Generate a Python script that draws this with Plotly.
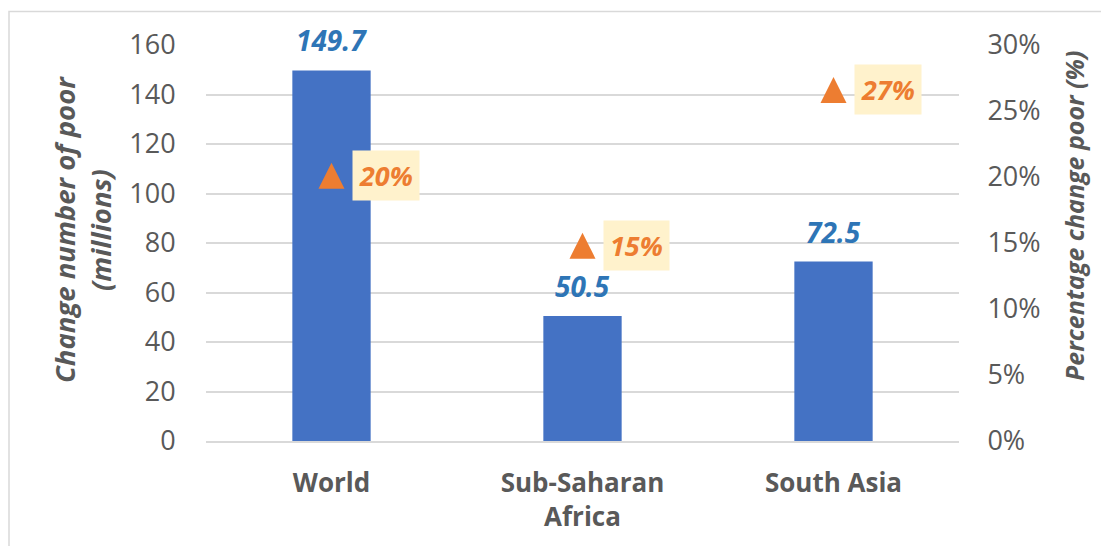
import plotly.graph_objects as go

# ---- data ----
categories = ["World", "Sub-Saharan Africa", "South Asia"]
tick_labels = ["World", "Sub-Saharan<br>Africa", "South Asia"]
change_millions = [149.7, 50.5, 72.5]
pct_change = [0.201, 0.148, 0.266]
left_ticks = [0, 20, 40, 60, 80, 100, 120, 140, 160]
right_ticks = [0, 0.05, 0.10, 0.15, 0.20, 0.25, 0.30]
right_tick_labels = ["0%", "5%", "10%", "15%", "20%", "25%", "30%"]

FONT = "Open Sans"
GRAY = "#595959"
BLUE = "#4472C4"
BLUE_TXT = "#2E75B6"
ORANGE = "#ED7D31"

# page body has an 8px margin; figure is offset by it
W, H = 1101, 538
ML, MT, PW, PH = 198, 37, 753, 396

fig = go.Figure()
fig.add_trace(go.Bar(
    x=categories, y=change_millions, marker=dict(color=BLUE, line=dict(width=0)),
    yaxis="y", name="Change number of poor", hoverinfo="skip",
))
fig.add_trace(go.Scatter(
    x=categories, y=pct_change, mode="markers", yaxis="y2",
    marker=dict(symbol="arrow-down", angle=180, standoff=13, size=26,
                color=ORANGE, line=dict(width=0)),
    name="Percentage change poor", hoverinfo="skip",
))

annotations = []
for c, v in zip(categories, change_millions):
    annotations.append(dict(
        x=c, y=v, xref="x", yref="y", text=f"{v:.1f}", showarrow=False,
        yanchor="middle", xanchor="center", yshift=30,
        font=dict(family=FONT, size=28, color=BLUE_TXT, weight="bold", style="italic"),
    ))
for c, p in zip(categories, pct_change):
    annotations.append(dict(
        x=c, y=p, xref="x", yref="y2", text=f"{p:.0%}", showarrow=False,
        xanchor="left", yanchor="middle", xshift=20,
        bgcolor="#FFF2CC", borderpad=6,
        font=dict(family=FONT, size=27, color=ORANGE, weight="bold", style="italic"),
    ))
annotations.append(dict(
    x=(83 - 206) / PW, y=(441 - 230) / PH, xref="paper", yref="paper", textangle=-90,
    text="Change number of poor<br>(millions)", showarrow=False,
    xanchor="center", yanchor="middle",
    font=dict(family=FONT, size=27.5, color=GRAY, weight="bold", style="italic"),
))
annotations.append(dict(
    x=(1074 - 206) / PW, y=(441 - 216) / PH, xref="paper", yref="paper", textangle=-90,
    text="Percentage change poor (%)", showarrow=False,
    xanchor="center", yanchor="middle",
    font=dict(family=FONT, size=25, color=GRAY, weight="bold", style="italic"),
))

fig.update_layout(
    width=W, height=H,
    margin=dict(l=ML, r=W - ML - PW, t=MT, b=H - MT - PH),
    paper_bgcolor="white", plot_bgcolor="white",
    showlegend=False, bargap=0.688,
    font=dict(family=FONT, color=GRAY),
    xaxis=dict(
        type="category", tickvals=categories, ticktext=tick_labels,
        tickfont=dict(family=FONT, size=26, color=GRAY, weight="bold"),
        showline=True, linecolor="#D9D9D9", linewidth=1.5,
        ticks="outside", ticklen=18, tickcolor="rgba(0,0,0,0)",
        showgrid=False,
    ),
    yaxis=dict(
        range=[0, 160], tickvals=left_ticks,
        tickfont=dict(family=FONT, size=27, color=GRAY),
        showgrid=True, gridcolor="#D9D9D9", gridwidth=1.5,
        zeroline=False, showline=False,
        ticks="outside", ticklen=24, tickcolor="rgba(0,0,0,0)",
    ),
    yaxis2=dict(
        range=[0, 0.30], overlaying="y", side="right",
        tickvals=right_ticks, ticktext=right_tick_labels,
        tickfont=dict(family=FONT, size=27, color=GRAY),
        showgrid=False, zeroline=False, showline=False,
        ticks="outside", ticklen=22, tickcolor="rgba(0,0,0,0)",
    ),
    annotations=annotations,
    shapes=[dict(
        type="rect", xref="paper", yref="paper",
        x0=(9 - 206) / PW, x1=1.6, y0=-0.6, y1=(441 - 11.5) / PH,
        line=dict(color="#D9D9D9", width=1.5), fillcolor="rgba(0,0,0,0)",
        layer="below",
    )],
)

fig.write_html("out.html")
